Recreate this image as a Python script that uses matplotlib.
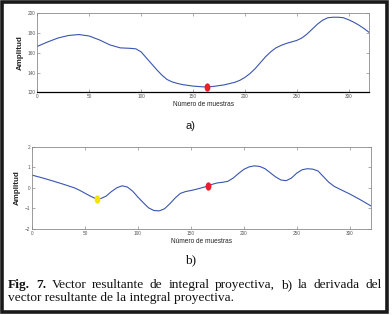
import matplotlib
matplotlib.use("Agg")
import matplotlib.pyplot as plt
from matplotlib.markers import MarkerStyle
from matplotlib.transforms import Affine2D
from matplotlib.patches import Rectangle

# ---- data: a) projective integral vector ----
xa = [0, 10, 20, 30, 40, 50, 60, 70, 80, 90, 95, 100, 105, 110, 115, 120, 125, 130,
      135, 140, 150, 160, 165, 170, 180, 190, 195, 200, 205, 210, 215, 220, 225, 230,
      235, 240, 250, 255, 260, 265, 270, 275, 280, 285, 290, 295, 300, 305, 310, 315, 320]
ya = [166.5, 171, 175, 177.5, 178.5, 177, 173, 168, 165, 164.5, 164, 161, 155, 149, 143,
      137.5, 133, 130.5, 129, 127.8, 126.3, 125.5, 125.5, 126, 127.5, 130, 132, 135, 139,
      144, 150, 156, 161, 165, 167.5, 169.5, 172.5, 175, 179, 184, 189, 193, 195.5, 196,
      196, 195.5, 193.5, 191, 188, 184.5, 180.5]
mark_a_x = [164]
mark_a_y = [125.8]

# ---- data: b) derivative ----
xb = [0, 10, 20, 30, 40, 45, 50, 55, 60, 65, 70, 75, 80, 85, 90, 95, 100, 105, 110, 115,
      120, 125, 130, 135, 140, 145, 150, 155, 160, 165, 170, 175, 180, 185, 190, 195, 200,
      205, 210, 215, 220, 225, 230, 235, 240, 245, 250, 255, 260, 265, 270, 275, 280, 285,
      290, 300, 310, 320]
yb = [0.62, 0.48, 0.33, 0.17, 0.0, -0.12, -0.26, -0.40, -0.52, -0.52, -0.40, -0.18, 0.0,
      0.1, 0.04, -0.16, -0.45, -0.72, -0.97, -1.10, -1.12, -1.02, -0.78, -0.50, -0.27,
      -0.18, -0.13, -0.07, 0.0, 0.07, 0.17, 0.24, 0.27, 0.32, 0.48, 0.70, 0.90, 1.02, 1.07,
      1.04, 0.93, 0.73, 0.53, 0.38, 0.35, 0.48, 0.72, 0.88, 0.93, 0.91, 0.82, 0.55, 0.28,
      0.08, -0.05, -0.30, -0.58, -0.88]
mark_b_yellow = (61.5, -0.53)
mark_b_red = (166, 0.07)

xticks = [0, 50, 100, 150, 200, 250, 300]
yticks_a = [120, 140, 160, 180, 200]
yticks_b = [-2, -1, 0, 1, 2]
xlabel = "Número de muestras"
ylabel = "Amplitud"

W, H = 392, 315
fig = plt.figure(figsize=(W / 100, H / 100), dpi=100)
fig.patch.set_facecolor("white")

def px_axes(l, t, r, b):
    return fig.add_axes([l / W, 1 - b / H, (r - l) / W, (b - t) / H])

line_col = "#3a55b0"
grey = "#8a8a8a"
ell = MarkerStyle("o", transform=Affine2D().scale(0.7, 1.0))

def style(ax):
    ax.set_xlim(0, 320)
    ax.set_xticks(xticks)
    for s in ax.spines.values():
        s.set_color(grey)
        s.set_linewidth(0.6)
    ax.tick_params(direction="in", length=2.2, width=0.5, color=grey,
                   labelsize=3.4, labelcolor="#555555", pad=1.5,
                   top=True, right=True)
    for lab in ax.get_xticklabels() + ax.get_yticklabels():
        lab.set_family("Liberation Sans")
    ax.set_xlabel(xlabel, fontsize=4.7, family="Liberation Sans", labelpad=1.2,
                  color="#222222")
    ax.set_ylabel(ylabel, fontsize=5.8, family="Liberation Sans", fontweight="bold",
                  labelpad=2.5, color="#222222")

# top axes
ax1 = px_axes(37.3, 13.3, 369.3, 92.3)
ax1.plot(xa, ya, color=line_col, lw=0.8)
ax1.plot(mark_a_x, mark_a_y, ls="none", marker=ell, ms=6, color="#e8202a", mec="none")
ax1.set_ylim(120, 200)
ax1.set_yticks(yticks_a)
style(ax1)
ax1.spines["bottom"].set_color("black")
ax1.spines["bottom"].set_linewidth(0.9)

# bottom axes
ax2 = px_axes(32, 146.7, 371, 229)
ax2.plot(xb, yb, color=line_col, lw=0.8)
ax2.plot([mark_b_yellow[0]], [mark_b_yellow[1]], ls="none", marker=ell, ms=6,
         color="#f2e500", mec="none")
ax2.plot([mark_b_red[0]], [mark_b_red[1]], ls="none", marker=ell, ms=6,
         color="#e8202a", mec="none")
ax2.set_ylim(-2, 2)
ax2.set_yticks(yticks_b)
style(ax2)

# panel labels
fig.text(190 / W, 1 - 126 / H, "a)", fontsize=8, family="Liberation Sans",
         ha="center", va="center", color="#111111")
fig.text(191 / W, 1 - 260 / H, "b)", fontsize=9.5, family="Liberation Serif",
         ha="center", va="center", color="#111111")

# caption (justified first line)
cap_line1 = ["Fig.", "7.", "Vector", "resultante", "de", "integral", "proyectiva,",
             "b)", "la", "derivada", "del"]
cap_line2 = "vector resultante de la integral proyectiva."
fs_cap = 9.6
left_px, right_px = 8.3, 381.7
fig.canvas.draw()
renderer = fig.canvas.get_renderer()
texts = []
for i, w in enumerate(cap_line1):
    t = fig.text(0, 1 - 288 / H, w, fontsize=fs_cap, family="Liberation Serif",
                 fontweight="bold" if i < 2 else "normal", va="baseline", ha="left",
                 color="#111111")
    texts.append(t)
widths = [t.get_window_extent(renderer).width for t in texts]
gap = (right_px - left_px - sum(widths)) / (len(texts) - 1)
x = left_px
for t, w in zip(texts, widths):
    t.set_x(round(x) / W)
    x += w + gap
fig.text(left_px / W, 1 - 301 / H, cap_line2, fontsize=fs_cap,
         family="Liberation Serif", va="baseline", ha="left", color="#111111")

# outer frame
fig.patches.append(Rectangle((2.2 / W, 1 - 312 / H), (387 - 2.2) / W, (312 - 1.8) / H,
                             transform=fig.transFigure, fill=False,
                             edgecolor="#1a1a1a", lw=2.6))

fig.savefig("out.png", dpi=100, facecolor="white")
